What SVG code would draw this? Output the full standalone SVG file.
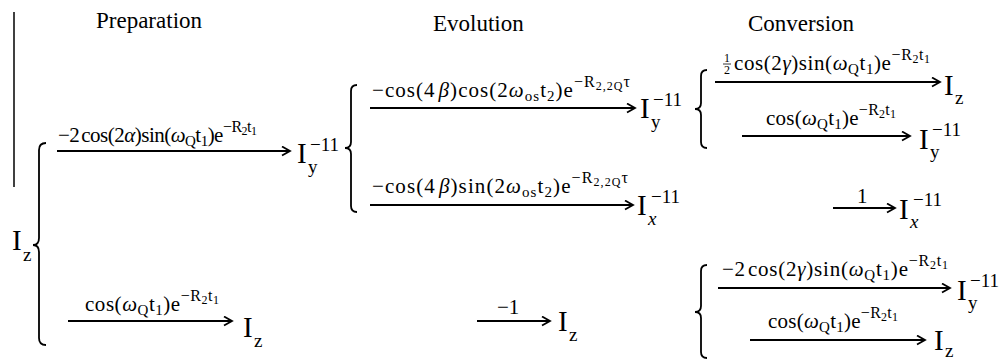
<svg xmlns="http://www.w3.org/2000/svg" width="1000" height="360" viewBox="0 0 1000 360">
<style>
text{font-family:"Liberation Serif","Times New Roman",serif;fill:#000}
.h{font-size:23px}
.m{font-size:21px}
.it{font-style:italic}
.sb{font-size:15px}
.sp{font-size:16px}
.ss{font-size:12px}
.I{font-size:29px}
.Is{font-size:19px}
.fr{font-size:12px}
.ln{stroke:#000;stroke-width:1.8;fill:none}
.br{stroke:#000;stroke-width:1.8;fill:none}
</style>
<defs>
<marker id="ah" markerWidth="12" markerHeight="12" refX="9" refY="5" orient="auto" markerUnits="userSpaceOnUse">
<path d="M1,0.5 L9,5 L1,9.5" fill="none" stroke="#000" stroke-width="1.8"/>
</marker>
</defs>
<rect width="1000" height="360" fill="#fff"/>
<g id="headers">
<text class="h" x="96" y="28">Preparation</text>
<text class="h" x="433" y="31">Evolution</text>
<text class="h" x="748" y="31">Conversion</text>
</g>
<line x1="14" y1="12" x2="14" y2="187" stroke="#000" stroke-width="1.5"/>
<g id="braces">
<path class="br" d="M46,143 Q39,143 39,150 L39,238 Q39,245 33,245 Q39,245 39,252 L39,338 Q39,345 46,345"/>
<path class="br" d="M357,85 Q351,85 351,91 L351,142 Q351,148 345,148 Q351,148 351,154 L351,206 Q351,212 357,212"/>
<path class="br" d="M707,70 Q701,70 701,76 L701,103 Q701,109 695,109 Q701,109 701,115 L701,142 Q701,148 707,148"/>
<path class="br" d="M707,265 Q701,265 701,271 L701,306 Q701,312 695,312 Q701,312 701,318 L701,352 Q701,358 707,358"/>
</g>
<g id="connectors">
<line class="ln" x1="57" y1="151" x2="290" y2="151" marker-end="url(#ah)"/>
<text class="m" x="58" y="142" textLength="199">−2<tspan dx="2">cos(2</tspan><tspan class="it">α</tspan>)sin(<tspan class="it">ω</tspan><tspan class="sb" dy="4">Q</tspan><tspan dy="-4">t</tspan><tspan class="sb" dy="4">1</tspan><tspan dy="-4">)e</tspan><tspan class="sp" dy="-10">−R</tspan><tspan class="ss" dy="3">2</tspan><tspan class="sp" dy="-3">t</tspan><tspan class="ss" dy="3">1</tspan></text>
<line class="ln" x1="68" y1="321" x2="232" y2="321" marker-end="url(#ah)"/>
<text class="m" x="85" y="311" textLength="134">cos(<tspan class="it">ω</tspan><tspan class="sb" dy="4">Q</tspan><tspan dy="-4">t</tspan><tspan class="sb" dy="4">1</tspan><tspan dy="-4">)e</tspan><tspan class="sp" dy="-10">−R</tspan><tspan class="ss" dy="3">2</tspan><tspan class="sp" dy="-3">t</tspan><tspan class="ss" dy="3">1</tspan></text>
<line class="ln" x1="370" y1="108" x2="635" y2="108" marker-end="url(#ah)"/>
<text class="m" x="372" y="97" textLength="258">−cos(4<tspan class="it" dx="3">β</tspan>)cos(2<tspan class="it">ω</tspan><tspan class="sb" dy="4">os</tspan><tspan dy="-4">t</tspan><tspan class="sb" dy="4">2</tspan><tspan dy="-4">)e</tspan><tspan class="sp" dy="-10">−R</tspan><tspan class="ss" dy="3">2,2Q</tspan><tspan class="sp" dy="-3">τ</tspan></text>
<line class="ln" x1="370" y1="205" x2="633" y2="205" marker-end="url(#ah)"/>
<text class="m" x="372" y="193" textLength="256">−cos(4<tspan class="it" dx="3">β</tspan>)sin(2<tspan class="it">ω</tspan><tspan class="sb" dy="4">os</tspan><tspan dy="-4">t</tspan><tspan class="sb" dy="4">2</tspan><tspan dy="-4">)e</tspan><tspan class="sp" dy="-10">−R</tspan><tspan class="ss" dy="3">2,2Q</tspan><tspan class="sp" dy="-3">τ</tspan></text>
<line class="ln" x1="477" y1="321" x2="550" y2="321" marker-end="url(#ah)"/>
<text class="m" x="497" y="314">−1</text>
<text class="fr" x="724" y="62">1</text>
<line x1="723" y1="64" x2="731" y2="64" stroke="#000" stroke-width="0.8"/>
<text class="fr" x="724" y="74">2</text>
<line class="ln" x1="715" y1="82" x2="940" y2="82" marker-end="url(#ah)"/>
<text class="m" x="734" y="70" textLength="196">cos(2<tspan class="it">γ</tspan>)sin(<tspan class="it">ω</tspan><tspan class="sb" dy="4">Q</tspan><tspan dy="-4">t</tspan><tspan class="sb" dy="4">1</tspan><tspan dy="-4">)e</tspan><tspan class="sp" dy="-10">−R</tspan><tspan class="ss" dy="3">2</tspan><tspan class="sp" dy="-3">t</tspan><tspan class="ss" dy="3">1</tspan></text>
<line class="ln" x1="742" y1="136" x2="910" y2="136" marker-end="url(#ah)"/>
<text class="m" x="766" y="125" textLength="130">cos(<tspan class="it">ω</tspan><tspan class="sb" dy="4">Q</tspan><tspan dy="-4">t</tspan><tspan class="sb" dy="4">1</tspan><tspan dy="-4">)e</tspan><tspan class="sp" dy="-10">−R</tspan><tspan class="ss" dy="3">2</tspan><tspan class="sp" dy="-3">t</tspan><tspan class="ss" dy="3">1</tspan></text>
<line class="ln" x1="833" y1="208" x2="895" y2="208" marker-end="url(#ah)"/>
<text class="m" x="857" y="203">1</text>
<line class="ln" x1="718" y1="288" x2="950" y2="288" marker-end="url(#ah)"/>
<text class="m" x="722" y="276" textLength="226">−2<tspan dx="2">cos(2</tspan><tspan class="it">γ</tspan>)sin(<tspan class="it">ω</tspan><tspan class="sb" dy="4">Q</tspan><tspan dy="-4">t</tspan><tspan class="sb" dy="4">1</tspan><tspan dy="-4">)e</tspan><tspan class="sp" dy="-10">−R</tspan><tspan class="ss" dy="3">2</tspan><tspan class="sp" dy="-3">t</tspan><tspan class="ss" dy="3">1</tspan></text>
<line class="ln" x1="750" y1="340" x2="925" y2="340" marker-end="url(#ah)"/>
<text class="m" x="768" y="328" textLength="130">cos(<tspan class="it">ω</tspan><tspan class="sb" dy="4">Q</tspan><tspan dy="-4">t</tspan><tspan class="sb" dy="4">1</tspan><tspan dy="-4">)e</tspan><tspan class="sp" dy="-10">−R</tspan><tspan class="ss" dy="3">2</tspan><tspan class="sp" dy="-3">t</tspan><tspan class="ss" dy="3">1</tspan></text>
</g>
<g id="n-Iz-start"><text class="I" x="12" y="250">I</text><text class="Is" x="23" y="261">z</text></g>
<g id="n-Iy-prep"><text class="I" x="297" y="163">I</text><text class="Is" x="308" y="173">y</text><text class="Is" x="310" y="151">−11</text></g>
<g id="n-Iz-prep"><text class="I" x="243" y="337">I</text><text class="Is" x="254" y="347">z</text></g>
<g id="n-Iy-evo"><text class="I" x="640" y="118">I</text><text class="Is" x="651" y="128">y</text><text class="Is" x="653" y="106">−11</text></g>
<g id="n-Ix-evo"><text class="I" x="637" y="215">I</text><text class="Is it" x="648" y="225">x</text><text class="Is" x="651" y="203">−11</text></g>
<g id="n-Iz-evo"><text class="I" x="558" y="331">I</text><text class="Is" x="569" y="341">z</text></g>
<g id="n-Iz-c1"><text class="I" x="944" y="95">I</text><text class="Is" x="955" y="104">z</text></g>
<g id="n-Iy-c2"><text class="I" x="919" y="149">I</text><text class="Is" x="930" y="158">y</text><text class="Is" x="932" y="136">−11</text></g>
<g id="n-Ix-c3"><text class="I" x="899" y="219">I</text><text class="Is it" x="910" y="228">x</text><text class="Is" x="913" y="206">−11</text></g>
<g id="n-Iy-c4"><text class="I" x="957" y="300">I</text><text class="Is" x="968" y="309">y</text><text class="Is" x="970" y="287">−11</text></g>
<g id="n-Iz-c5"><text class="I" x="934" y="350">I</text><text class="Is" x="945" y="357">z</text></g>
</svg>
